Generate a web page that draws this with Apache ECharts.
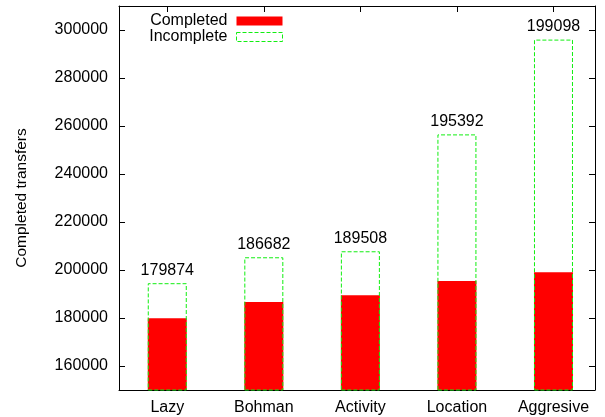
<!DOCTYPE html>
<html>
<head>
<meta charset="utf-8">
<script src="https://cdn.jsdelivr.net/npm/echarts@6/dist/echarts.min.js"></script>
<style>html,body{margin:0;padding:0;background:#fff;}#c{width:605px;height:417px;}</style>
</head>
<body>
<div id="c"></div>
<script>
const categories = ['Lazy', 'Bohman', 'Activity', 'Location', 'Aggresive'];
const completed = [179874, 186682, 189508, 195392, 199098];
const totals = [194500, 205300, 207800, 256500, 296000];
const yTicks = [160000, 180000, 200000, 220000, 240000, 260000, 280000, 300000];

const FONT = '"Liberation Sans", Arial, sans-serif';
const GREEN = '#11ee11';
const idx = categories.map((_, i) => i);
const chart = echarts.init(document.getElementById('c'), null, {renderer: 'canvas'});
const axisLine = {show: true, onZero: false, lineStyle: {color: '#000', width: 1}};
const xCommon = {
  type: 'value', min: -0.5, max: 4.43,
  axisLine: axisLine,
  splitLine: {show: false},
  axisTick: {show: true, inside: true, length: 6, customValues: idx, lineStyle: {color: '#000'}},
};
const yCommon = {
  type: 'value', min: 150000, max: 310000,
  axisLine: axisLine,
  splitLine: {show: false},
  axisTick: {show: true, inside: true, length: 6, customValues: yTicks, lineStyle: {color: '#000'}},
};
chart.setOption({
  animation: false,
  backgroundColor: '#fff',
  textStyle: {fontFamily: FONT},
  grid: {left: 119, right: 10, top: 6, bottom: 27},
  legend: {
    orient: 'vertical', right: 317, top: 8, align: 'right',
    itemWidth: 46, itemHeight: 9, itemGap: 0,
    textStyle: {fontFamily: FONT, fontSize: 16, lineHeight: 16, color: '#000', padding: [0, 4, 0, 0]},
    data: [
      {name: 'Completed', icon: 'rect'},
      {name: 'Incomplete', icon: 'rect', itemStyle: {color: 'rgba(0,0,0,0)', borderColor: GREEN, borderWidth: 1, borderType: [4, 2]}}
    ]
  },
  xAxis: [
    Object.assign({}, xCommon, {
      position: 'bottom',
      axisLabel: {show: true, customValues: idx, margin: 10, fontFamily: FONT, fontSize: 16, color: '#000',
        formatter: v => categories[Math.round(v)] || ''}
    }),
    Object.assign({}, xCommon, {position: 'top', axisLabel: {show: false}})
  ],
  yAxis: [
    Object.assign({}, yCommon, {
      position: 'left',
      name: 'Completed transfers', nameLocation: 'middle', nameRotate: 90, nameGap: 89,
      nameTextStyle: {fontFamily: FONT, fontSize: 15.5, color: '#000'},
      axisLabel: {show: true, customValues: yTicks, margin: 11, fontFamily: FONT, fontSize: 16, color: '#000',
        formatter: v => String(v)}
    }),
    Object.assign({}, yCommon, {position: 'right', axisLabel: {show: false}})
  ],
  series: [
    {
      name: 'Completed', type: 'bar', barWidth: 39,
      itemStyle: {color: '#ff0000'},
      data: completed.map((v, i) => [i, v])
    },
    {
      name: 'Incomplete', type: 'bar', barWidth: 39, barGap: '-100%',
      itemStyle: {color: 'rgba(0,0,0,0)', borderColor: GREEN, borderWidth: 1, borderType: [4, 2]},
      label: {show: true, position: 'top', distance: 5, fontFamily: FONT, fontSize: 16, color: '#000',
        formatter: p => String(completed[p.dataIndex])},
      data: totals.map((v, i) => [i, v])
    }
  ]
});
</script>
</body>
</html>
